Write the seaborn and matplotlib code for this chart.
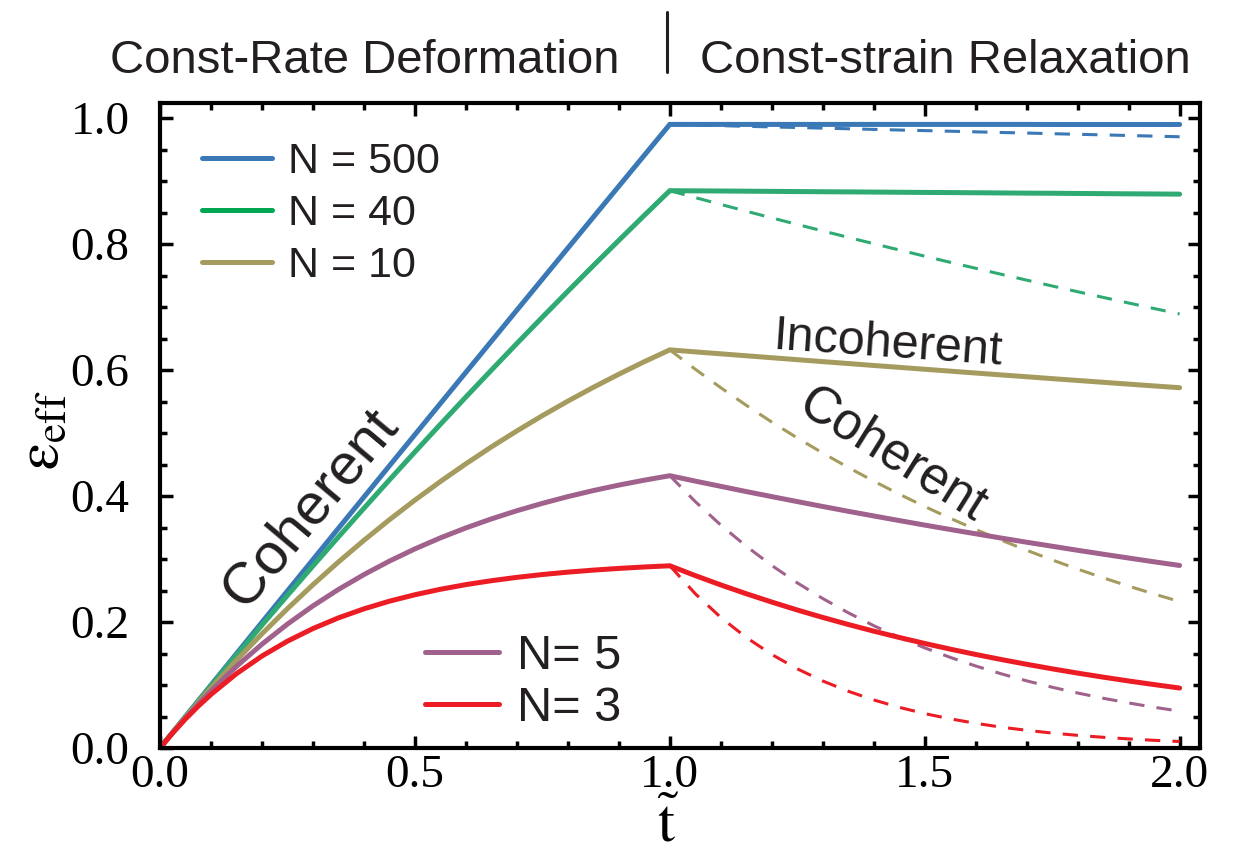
import matplotlib
matplotlib.use("Agg")
import matplotlib.pyplot as plt
import seaborn as sns
import pandas as pd
from matplotlib.lines import Line2D
from matplotlib.ticker import MultipleLocator

# ---------------- data ----------------
t_ramp = [0.0, 0.025, 0.05, 0.075, 0.1, 0.15, 0.2, 0.25, 0.3, 0.35, 0.4, 0.45,
          0.5, 0.55, 0.6, 0.65, 0.7, 0.75, 0.8, 0.85, 0.9, 0.95, 1.0]
t_relax = [1.0, 1.05, 1.1, 1.15, 1.2, 1.25, 1.3, 1.35, 1.4, 1.45, 1.5,
           1.55, 1.6, 1.65, 1.7, 1.75, 1.8, 1.85, 1.9, 1.95, 2.0]

labels = ["N = 500", "N = 40", "N = 10", "N= 5", "N= 3"]

# constant-rate deformation (0 <= t <= 1)
ramp_500 = [0, 0.0250, 0.0500, 0.0749, 0.0999, 0.1498, 0.1996, 0.2494, 0.2991, 0.3488, 0.3984, 0.4480,
            0.4975, 0.5470, 0.5964, 0.6458, 0.6951, 0.7444, 0.7936, 0.8428, 0.8919, 0.9410, 0.9900]
ramp_40 = [0, 0.0249, 0.0497, 0.0743, 0.0988, 0.1472, 0.1951, 0.2423, 0.2890, 0.3351, 0.3806, 0.4256,
           0.4700, 0.5139, 0.5572, 0.5999, 0.6422, 0.6839, 0.7251, 0.7658, 0.8059, 0.8456, 0.8848]
ramp_10 = [0, 0.0247, 0.0488, 0.0723, 0.0952, 0.1393, 0.1813, 0.2212, 0.2592, 0.2953, 0.3297, 0.3624,
           0.3935, 0.4231, 0.4512, 0.4780, 0.5034, 0.5276, 0.5507, 0.5726, 0.5934, 0.6133, 0.6321]
ramp_5 = [0, 0.0244, 0.0476, 0.0696, 0.0906, 0.1296, 0.1648, 0.1967, 0.2256, 0.2517, 0.2753, 0.2967,
          0.3161, 0.3336, 0.3494, 0.3637, 0.3767, 0.3884, 0.3991, 0.4087, 0.4174, 0.4252, 0.4323]
ramp_3 = [0, 0.0240, 0.0461, 0.0664, 0.0850, 0.1180, 0.1460, 0.1696, 0.1896, 0.2066, 0.2209, 0.2331,
          0.2433, 0.2520, 0.2594, 0.2656, 0.2709, 0.2754, 0.2792, 0.2824, 0.2851, 0.2874, 0.2893]

# const-strain relaxation, incoherent (solid, 1 <= t <= 2)
incoh_500 = [0.9900, 0.9900, 0.9900, 0.9900, 0.9900, 0.9900, 0.9900, 0.9900, 0.9900, 0.9900, 0.9900,
             0.9900, 0.9900, 0.9900, 0.9900, 0.9899, 0.9899, 0.9899, 0.9899, 0.9899, 0.9899]
incoh_40 = [0.8848, 0.8845, 0.8843, 0.8840, 0.8837, 0.8834, 0.8831, 0.8829, 0.8826, 0.8823, 0.8820,
            0.8818, 0.8815, 0.8812, 0.8809, 0.8807, 0.8804, 0.8801, 0.8798, 0.8796, 0.8793]
incoh_10 = [0.6321, 0.6289, 0.6258, 0.6227, 0.6196, 0.6165, 0.6134, 0.6104, 0.6073, 0.6043, 0.6013,
            0.5983, 0.5953, 0.5923, 0.5894, 0.5864, 0.5835, 0.5806, 0.5777, 0.5748, 0.5720]
incoh_5 = [0.4323, 0.4237, 0.4154, 0.4071, 0.3991, 0.3912, 0.3834, 0.3758, 0.3684, 0.3611, 0.3539,
           0.3469, 0.3401, 0.3333, 0.3267, 0.3203, 0.3139, 0.3077, 0.3016, 0.2956, 0.2898]
incoh_3 = [0.2893, 0.2737, 0.2589, 0.2449, 0.2317, 0.2191, 0.2073, 0.1961, 0.1855, 0.1755, 0.1660,
           0.1570, 0.1485, 0.1405, 0.1329, 0.1257, 0.1189, 0.1125, 0.1064, 0.1007, 0.0952]

# const-strain relaxation, coherent (dashed, 1 <= t <= 2)
coh_500 = [0.9900, 0.9890, 0.9880, 0.9870, 0.9860, 0.9851, 0.9841, 0.9831, 0.9821, 0.9811, 0.9802,
           0.9792, 0.9782, 0.9772, 0.9763, 0.9753, 0.9743, 0.9734, 0.9724, 0.9714, 0.9704]
coh_40 = [0.8848, 0.8738, 0.8630, 0.8522, 0.8416, 0.8312, 0.8209, 0.8107, 0.8006, 0.7907, 0.7808,
          0.7711, 0.7616, 0.7521, 0.7428, 0.7335, 0.7244, 0.7154, 0.7065, 0.6977, 0.6891]
coh_10 = [0.6321, 0.6013, 0.5720, 0.5441, 0.5175, 0.4923, 0.4683, 0.4454, 0.4237, 0.4030, 0.3834,
          0.3647, 0.3469, 0.3300, 0.3139, 0.2986, 0.2840, 0.2702, 0.2570, 0.2445, 0.2325]
coh_5 = [0.4323, 0.3912, 0.3539, 0.3203, 0.2898, 0.2622, 0.2373, 0.2147, 0.1942, 0.1758, 0.1590,
         0.1439, 0.1302, 0.1178, 0.1066, 0.0965, 0.0873, 0.0790, 0.0715, 0.0647, 0.0585]
coh_3 = [0.2893, 0.2449, 0.2073, 0.1755, 0.1485, 0.1257, 0.1064, 0.0901, 0.0763, 0.0646, 0.0546,
         0.0463, 0.0392, 0.0331, 0.0281, 0.0237, 0.0201, 0.0170, 0.0144, 0.0122, 0.0103]

ramps = [ramp_500, ramp_40, ramp_10, ramp_5, ramp_3]
incohs = [incoh_500, incoh_40, incoh_10, incoh_5, incoh_3]
cohs = [coh_500, coh_40, coh_10, coh_5, coh_3]

line_colors = ["#3A78B6", "#2EAA72", "#A59B5E", "#A0628C", "#EC1C24"]
legend_colors = ["#3A78B6", "#00A651", "#A59B5E", "#A0628C", "#EC1C24"]

xtick_vals = [0.0, 0.5, 1.0, 1.5, 2.0]
ytick_vals = [0.0, 0.2, 0.4, 0.6, 0.8, 1.0]

# ---------------- style ----------------
sns.set_style("ticks")
plt.rcParams["font.family"] = ["Liberation Sans", "DejaVu Sans"]
plt.rcParams["mathtext.fontset"] = "stix"
TXT = "#231f20"

W, H = 1236, 857
fig = plt.figure(figsize=(W / 100, H / 100), dpi=100)
ax = fig.add_axes([160 / W, 1 - 748 / H, 1040 / W, 645 / H])

for lab, r, ic, co, c in zip(labels, ramps, incohs, cohs, line_colors):
    solid = pd.DataFrame({"t": t_ramp + t_relax[1:], "e": r + ic[1:]})
    dashed = pd.DataFrame({"t": t_relax, "e": co})
    sns.lineplot(data=dashed, x="t", y="e", ax=ax, color=c, lw=2.2,
                 linestyle=(0, (5, 4)), legend=False, errorbar=None)
    sns.lineplot(data=solid, x="t", y="e", ax=ax, color=c, lw=3.6,
                 legend=False, errorbar=None, solid_joinstyle="miter")

ax.set_xlim(0, 2.04)
ax.set_ylim(0, 1.024)
ax.set_xlabel("")
ax.set_ylabel("")

for s in ax.spines.values():
    s.set_linewidth(3.0)
    s.set_color("black")

ax.xaxis.set_major_locator(MultipleLocator(0.5))
ax.xaxis.set_minor_locator(MultipleLocator(0.1))
ax.yaxis.set_major_locator(MultipleLocator(0.2))
ax.yaxis.set_minor_locator(MultipleLocator(0.05))
ax.set_xticks(xtick_vals)
ax.set_xticklabels([f"{v:.1f}" for v in xtick_vals])
ax.set_yticks(ytick_vals)
ax.set_yticklabels([f"{v:.1f}" for v in ytick_vals])
ax.tick_params(which="both", direction="in", top=True, right=True, width=2.5, color="black")
ax.tick_params(which="major", length=9)
ax.tick_params(which="minor", length=5)
ax.tick_params(axis="x", pad=5)
ax.tick_params(axis="y", pad=22)
for lbl in ax.get_xticklabels() + ax.get_yticklabels():
    lbl.set_fontfamily("Liberation Serif")
    lbl.set_fontsize(34)
    lbl.set_color("black")

# axis labels
fig.text(42 / W, 1 - 430 / H, r"$\mathrm{\varepsilon}_{\mathrm{eff}}$", rotation=90,
         ha="center", va="center", fontsize=44, color="black")
fig.text(668 / W, 1 - 854 / H, r"$\tilde{\mathrm{t}}$", ha="center", va="bottom",
         fontsize=44, color="black")

# titles
fig.text(365 / W, 1 - 73 / H, "Const-Rate Deformation", ha="center", va="baseline",
         fontsize=34, color=TXT)
fig.text(945 / W, 1 - 73 / H, "Const-strain Relaxation", ha="center", va="baseline",
         fontsize=34, color=TXT)
fig.add_artist(Line2D([667 / W, 667 / W], [1 - 12 / H, 1 - 72 / H], lw=2.2, color=TXT))

# annotations
ax.text(0.294, 0.381, "Coherent", rotation=50, rotation_mode="anchor",
        ha="center", va="center", fontsize=42, color=TXT)
ax.text(1.427, 0.640, "Incoherent", rotation=-4, rotation_mode="anchor",
        ha="center", va="center", fontsize=35, color=TXT)
ax.text(1.437, 0.465, "Coherent", rotation=-32, rotation_mode="anchor",
        ha="center", va="center", fontsize=37, color=TXT)

# legends
h1 = [Line2D([], [], color=legend_colors[i], lw=3.6) for i in range(3)]
leg1 = fig.legend(h1, labels[:3], loc="upper left",
                  bbox_to_anchor=(202 / W, 1 - 142 / H), frameon=False,
                  fontsize=31, handlelength=1.63, handletextpad=0.37,
                  labelspacing=0.28, borderpad=0, borderaxespad=0)
for t in leg1.get_texts():
    t.set_color(TXT)
h2 = [Line2D([], [], color=legend_colors[i], lw=3.6) for i in range(3, 5)]
leg2 = fig.legend(h2, labels[3:], loc="upper left",
                  bbox_to_anchor=(425 / W, 1 - 634 / H), frameon=False,
                  fontsize=35, handlelength=1.53, handletextpad=0.37,
                  labelspacing=0.14, borderpad=0, borderaxespad=0)
for t in leg2.get_texts():
    t.set_color(TXT)

fig.savefig("out.png", dpi=100)
